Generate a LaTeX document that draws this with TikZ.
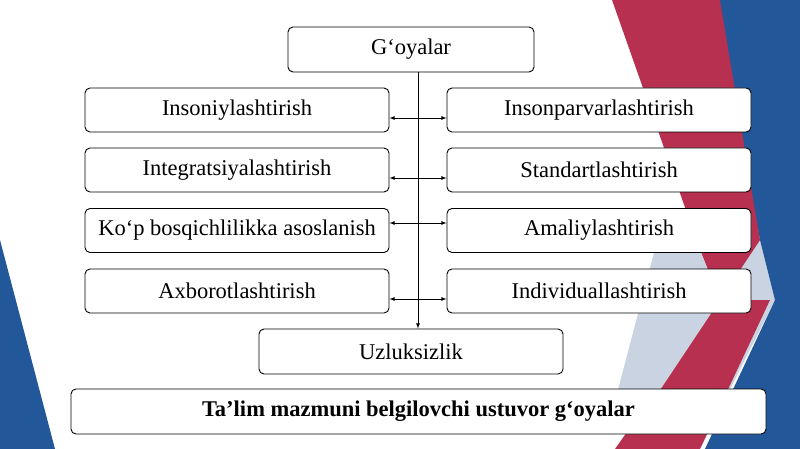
\documentclass[tikz,border=0pt]{standalone}
\usepackage{fontspec}
\setmainfont{Liberation Serif}
\definecolor{crim}{HTML}{B8304F}
\definecolor{dblue}{HTML}{22579A}
\definecolor{pale}{HTML}{C9D3E2}
\begin{document}
\begin{tikzpicture}[x=1pt,y=-1pt,
  box/.style={draw=black,line width=0.9pt,rounded corners=5pt,fill=white,font=\fontsize{22.5}{26}\selectfont},
  conn/.style={line width=0.8pt,-latex}]
\useasboundingbox (0,0) rectangle (800,449);
\fill[white] (0,0) rectangle (800,449);
% background decoration
\fill[pale] (640,0) -- (760,0) -- (775,300) -- (700,449) -- (640,449) -- (720,300) -- cycle;
\fill[crim] (612,0) -- (725,0) -- (760,240) -- (720,300) -- (700,250) -- cycle;
\fill[crim] (720,300) -- (770,300) -- (700,449) -- (615,449) -- cycle;
\fill[dblue] (720,0) -- (800,0) -- (800,449) -- (705,449) -- (775,300) -- (760,240) -- cycle;
\fill[pale] (660,230) -- (700,250) -- (720,300) -- (640,420) -- (610,420) -- cycle;
\fill[dblue] (0,240) -- (55,449) -- (0,449) -- cycle;
% nodes
\node[box,minimum width=246pt,minimum height=45pt] (g) at (411,49.5) {G‘oyalar};
\foreach \n/\t/\y in {l1/Insoniylashtirish/110,l2/Integratsiyalashtirish/170,l3/Ko‘p bosqichlilikka asoslanish/230.5,l4/Axborotlashtirish/291}
  \node[box,minimum width=304pt,minimum height=44pt] (\n) at (237,\y) {\t};
\foreach \n/\t/\y in {r1/Insonparvarlashtirish/110,r2/Standartlashtirish/170,r3/Amaliylashtirish/230.5,r4/Individuallashtirish/291}
  \node[box,minimum width=304pt,minimum height=44pt] (\n) at (599,\y) {\t};
\node[box,minimum width=304pt,minimum height=45pt] (u) at (411,351.5) {Uzluksizlik};
\node[box,minimum width=695pt,minimum height=45pt,font=\fontsize{22.5}{26}\selectfont\bfseries] (b) at (418.5,411.5) {Ta’lim mazmuni belgilovchi ustuvor g‘oyalar};
% connectors
\draw[conn] (g.south -| 418,0) -- (u.north -| 418,0);
\foreach \i/\y in {1/118,2/178,3/223,4/299}
  \draw[line width=0.8pt,latex-latex] (l\i.east |- 0,\y) -- (r\i.west |- 0,\y);
\end{tikzpicture}
\end{document}
